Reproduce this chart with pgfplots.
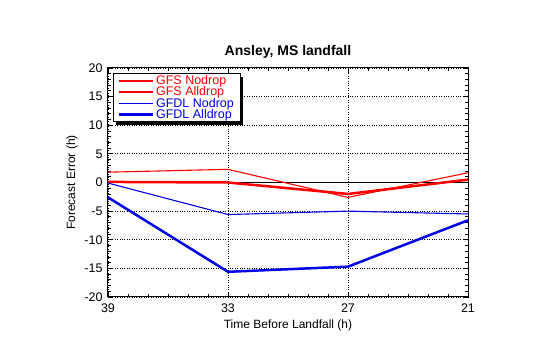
\documentclass[border=0pt]{standalone}
\usepackage{pgfplots}
\pgfplotsset{compat=1.18}
\usepackage{fontspec}
\setmainfont{Liberation Sans}
\definecolor{gred}{RGB}{255,0,0}
\definecolor{gblue}{RGB}{0,0,230}
\begin{document}
\begin{tikzpicture}
\useasboundingbox (-108pt,-47pt) rectangle (432pt,297pt);
\begin{axis}[
  at={(0pt,0pt)}, anchor=south west,
  scale only axis, width=360pt, height=229pt,
  xmin=21, xmax=39, ymin=-20, ymax=20,
  x dir=reverse,
  xtick={21,27,33,39}, xticklabels={21,27,33,39},
  ytick={-20,-15,-10,-5,0,5,10,15,20},
  yticklabels={-20,-15,-10,-5,0,5,10,15,20},
  minor x tick num=5, minor y tick num=4,
  tick align=inside,
  major tick length=5pt, minor tick length=3pt,
  tick style={black, line width=0.8pt},
  axis line style={line width=1pt},
  grid=major, major grid style={black, dotted, line width=0.8pt},
  ticklabel style={font=\fontsize{12.5}{14}\selectfont},
  xticklabel style={yshift=-3pt},
  yticklabel style={xshift=-2pt},
  title={\textbf{Ansley, MS landfall}},
  title style={font=\fontsize{14}{16}\selectfont, yshift=0pt},
  xlabel={Time Before Landfall (h)},
  ylabel={Forecast Error (h)},
  label style={font=\fontsize{12}{14}\selectfont},
  xlabel style={yshift=-1pt},
  ylabel style={yshift=0pt},
  legend style={name=leg, at={(0.015,0.975)}, anchor=north west, fill=white, draw=none,
    font=\fontsize{12.5}{11}\selectfont, row sep=0pt, inner sep=1.5pt, inner xsep=4pt,
    nodes={inner ysep=0.3pt}},
  legend cell align=left,
  legend image code/.code={\draw[#1] (0pt,0pt) -- (34pt,0pt);},
]
\addplot[black, line width=1pt, forget plot] coordinates {(21,0) (39,0)};
\addplot[color=gred, line width=1.1pt] coordinates {(39,1.8) (33,2.3) (27,-2.6) (21,1.7)};
\addlegendentry{\textcolor{gred}{GFS Nodrop}}
\addplot[color=gred, line width=2.5pt] coordinates {(39,0.1) (33,0.0) (27,-2.0) (21,0.5)};
\addlegendentry{\textcolor{gred}{GFS Alldrop}}
\addplot[color=gblue, line width=1.1pt] coordinates {(39,-0.1) (33,-5.6) (27,-5.0) (21,-5.5)};
\addlegendentry{\textcolor{gblue}{GFDL Nodrop}}
\addplot[color=gblue, line width=2.5pt] coordinates {(39,-2.6) (33,-15.6) (27,-14.7) (21,-6.6)};
\addlegendentry{\textcolor{gblue}{GFDL Alldrop}}
\end{axis}
\draw[black, line width=1pt] (leg.south west) rectangle (leg.north east);
\fill[black] ([yshift=-3pt]leg.north east) rectangle ([xshift=3pt,yshift=-3pt]leg.south east);
\fill[black] ([xshift=3pt,yshift=-3pt]leg.south west) rectangle (leg.south east);
\end{tikzpicture}
\end{document}
